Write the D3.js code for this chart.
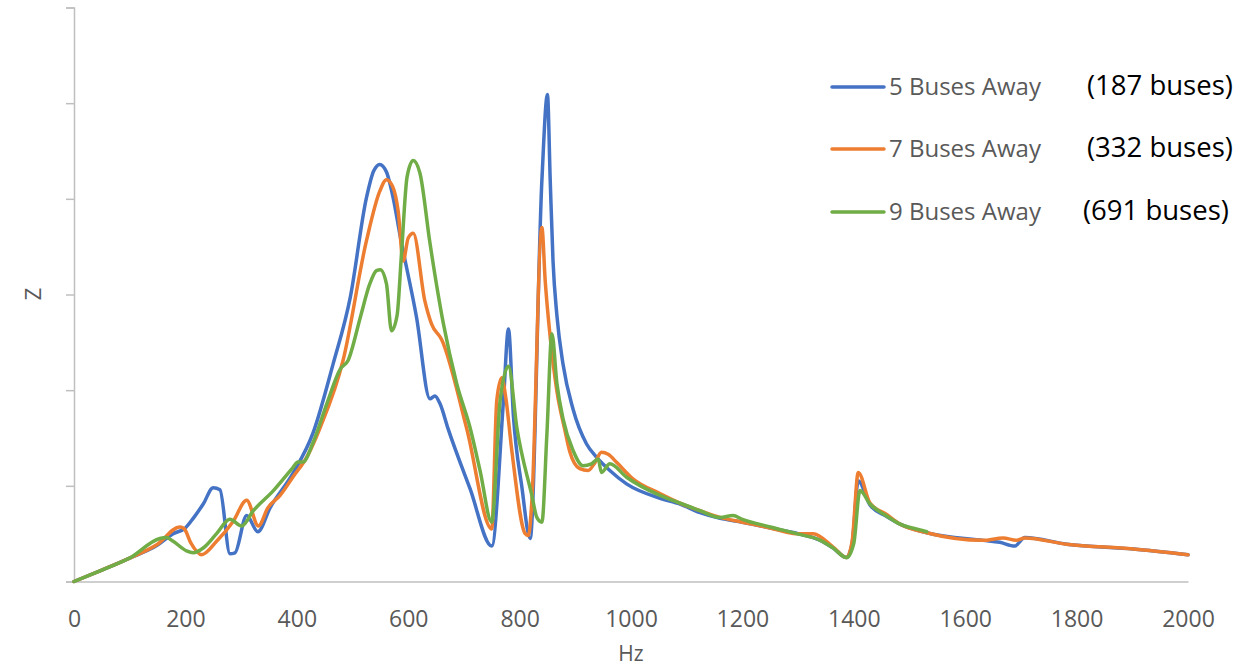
<!DOCTYPE html>
<html>
<head>
<meta charset="utf-8">
<script src="https://cdn.jsdelivr.net/npm/d3@7"></script>
<style>
  body { margin: 0; background: #fff; }
  svg { display: block; }
</style>
</head>
<body>
<svg id="chart" width="1250" height="668"></svg>
<script>
// частоты (Hz) и импеданс Z для каждой серии
const hz5 = [0, 50, 100, 150, 178, 200, 214, 232, 250, 262, 280, 289, 310, 330, 352, 393, 429, 465, 496, 525, 538, 549, 561, 573, 585, 615, 639, 648, 657, 672, 711, 750, 771, 780, 789, 804, 819, 840, 850, 855, 860, 867, 878, 896, 920, 938, 962, 992, 1052, 1088, 1124, 1160, 1200, 1250, 1300, 1340, 1363, 1387, 1397, 1408, 1429, 1459, 1483, 1531, 1632, 1662, 1689, 1707, 1782, 1902, 2000];
const z5 = [0, 0.12, 0.245, 0.38, 0.50, 0.56, 0.66, 0.81, 0.98, 0.96, 0.29, 0.30, 0.69, 0.52, 0.77, 1.13, 1.55, 2.27, 2.97, 4.01, 4.29, 4.36, 4.28, 4.01, 3.63, 2.76, 1.91, 1.94, 1.86, 1.59, 0.97, 0.37, 1.89, 2.64, 1.72, 0.99, 0.45, 4.19, 5.09, 4.19, 3.35, 2.78, 2.27, 1.80, 1.44, 1.30, 1.16, 1.02, 0.87, 0.81, 0.72, 0.66, 0.62, 0.56, 0.50, 0.43, 0.35, 0.25, 0.40, 1.05, 0.80, 0.68, 0.60, 0.51, 0.43, 0.41, 0.37, 0.46, 0.39, 0.34, 0.28];

const hz7 = [0, 50, 100, 150, 190, 198, 210, 229, 256, 286, 310, 331, 348, 370, 394, 418, 442, 483, 525, 549, 561, 572, 582, 591, 600, 609, 630, 642, 660, 705, 750, 759, 768, 775, 786, 810, 816, 822, 840, 846, 855, 867, 881, 890, 908, 923, 935, 947, 959, 975, 1004, 1052, 1088, 1124, 1160, 1200, 1250, 1297, 1327, 1363, 1387, 1397, 1408, 1429, 1459, 1483, 1531, 1632, 1668, 1692, 1707, 1782, 1902, 2000];
const z7 = [0, 0.12, 0.245, 0.39, 0.57, 0.55, 0.40, 0.28, 0.42, 0.63, 0.85, 0.58, 0.77, 0.90, 1.10, 1.30, 1.61, 2.31, 3.56, 4.08, 4.20, 4.13, 3.87, 3.35, 3.59, 3.64, 2.93, 2.69, 2.53, 1.60, 0.55, 1.89, 2.13, 1.93, 1.37, 0.50, 0.48, 0.84, 3.70, 3.14, 2.55, 1.99, 1.59, 1.36, 1.18, 1.16, 1.24, 1.35, 1.33, 1.24, 1.07, 0.92, 0.82, 0.74, 0.67, 0.62, 0.56, 0.50, 0.50, 0.36, 0.25, 0.42, 1.14, 0.82, 0.70, 0.60, 0.51, 0.43, 0.455, 0.43, 0.455, 0.39, 0.34, 0.28];

const hz9 = [0, 50, 100, 154, 166, 178, 202, 214, 232, 256, 280, 301, 322, 358, 393, 402, 411, 429, 454, 478, 492, 514, 531, 543, 550, 561, 570, 580, 588, 598, 609, 621, 639, 663, 687, 711, 729, 750, 765, 780, 795, 822, 831, 840, 849, 858, 867, 878, 896, 914, 929, 941, 947, 962, 992, 1052, 1088, 1124, 1160, 1183, 1200, 1250, 1297, 1340, 1363, 1387, 1400, 1411, 1429, 1459, 1483, 1519, 1531];
const z9 = [0, 0.12, 0.245, 0.45, 0.46, 0.42, 0.32, 0.30, 0.35, 0.50, 0.65, 0.58, 0.74, 0.95, 1.19, 1.25, 1.25, 1.45, 1.86, 2.22, 2.31, 2.76, 3.11, 3.25, 3.26, 3.11, 2.62, 2.78, 3.43, 4.23, 4.40, 4.27, 3.54, 2.70, 2.07, 1.61, 1.16, 0.62, 1.89, 2.25, 1.61, 0.90, 0.67, 0.62, 1.54, 2.59, 2.07, 1.70, 1.37, 1.21, 1.23, 1.28, 1.14, 1.23, 1.09, 0.90, 0.82, 0.74, 0.67, 0.69, 0.65, 0.57, 0.50, 0.43, 0.35, 0.25, 0.40, 0.95, 0.81, 0.685, 0.60, 0.54, 0.52];

const seriesNames = ["5 Buses Away", "7 Buses Away", "9 Buses Away"];
const busCounts = ["(187 buses)", "(332 buses)", "(691 buses)"];
const colors = ["#4472C4", "#ED7D31", "#70AD47"];
const xTicks = [0, 200, 400, 600, 800, 1000, 1200, 1400, 1600, 1800, 2000];
const yTicks = [0, 1, 2, 3, 4, 5, 6];

const series = [
    { name: seriesNames[0], color: colors[0], pts: hz5.map((h, i) => [h, z5[i]]) },
    { name: seriesNames[1], color: colors[1], pts: hz7.map((h, i) => [h, z7[i]]) },
    { name: seriesNames[2], color: colors[2], pts: hz9.map((h, i) => [h, z9[i]]) }
];

const svg = d3.select("#chart");
const font = "'Open Sans', 'Noto Sans', sans-serif";
const axisColor = "#BFBFBF";
const textColor = "#595959";

const scX = d3.scaleLinear().domain([0, 2000]).range([74, 1188]);
const scY = d3.scaleLinear().domain([0, 6]).range([581.5, 7.5]);

// ось OY: только засечки, без подписей
const axisY = d3.axisLeft(scY).tickValues(yTicks).tickSize(8).tickFormat("");
const gY = svg.append("g").attr("transform", `translate(${scX(0)},0)`).call(axisY);
gY.select(".domain").attr("stroke", axisColor).attr("stroke-width", 1.5);
gY.selectAll(".tick line").attr("stroke", axisColor).attr("stroke-width", 1.5);

// ось OX: линия и подписи, без засечек
const axisX = d3.axisBottom(scX).tickValues(xTicks).tickSize(0).tickPadding(29).tickFormat(d3.format("d"));
const gX = svg.append("g").attr("transform", `translate(0,${scY(0)})`).call(axisX);
gX.select(".domain").attr("stroke", axisColor).attr("stroke-width", 1.5);
gX.selectAll(".tick text")
    .attr("fill", textColor)
    .style("font-family", font)
    .style("font-size", "23px");

// подписи осей
svg.append("text")
    .attr("x", 631).attr("y", 661)
    .attr("text-anchor", "middle")
    .attr("fill", textColor)
    .style("font-family", font).style("font-size", "21px")
    .text("Hz");
svg.append("text")
    .attr("transform", "translate(41,294) rotate(-90)")
    .attr("text-anchor", "middle")
    .attr("fill", textColor)
    .style("font-family", font).style("font-size", "22px")
    .text("Z");

// линии
const line = d3.line()
    .x(d => scX(d[0]))
    .y(d => scY(d[1]))
    .curve(d3.curveMonotoneX);

svg.append("g").selectAll("path")
    .data(series)
    .enter()
    .append("path")
    .attr("d", d => line(d.pts))
    .attr("fill", "none")
    .attr("stroke", d => d.color)
    .attr("stroke-width", 3.5)
    .attr("stroke-linejoin", "round")
    .attr("stroke-linecap", "round");

// легенда
const legY = [87, 149, 212];
const countX = [1087, 1087, 1083];
const leg = svg.append("g").selectAll("g")
    .data(series)
    .enter()
    .append("g")
    .attr("transform", (d, i) => `translate(0,${legY[i]})`);
leg.append("line")
    .attr("x1", 832).attr("x2", 884)
    .attr("y1", 0).attr("y2", 0)
    .attr("stroke", d => d.color)
    .attr("stroke-width", 3.5)
    .attr("stroke-linecap", "round");
leg.append("text")
    .attr("x", 889).attr("y", 0).attr("dy", "0.35em")
    .attr("fill", textColor)
    .style("font-family", font).style("font-size", "24px")
    .text(d => d.name);
leg.append("text")
    .attr("x", (d, i) => countX[i]).attr("y", 0).attr("dy", "0.3em")
    .attr("fill", "#000")
    .style("font-family", font).style("font-size", "27.5px")
    .text((d, i) => busCounts[i]);
</script>
</body>
</html>
